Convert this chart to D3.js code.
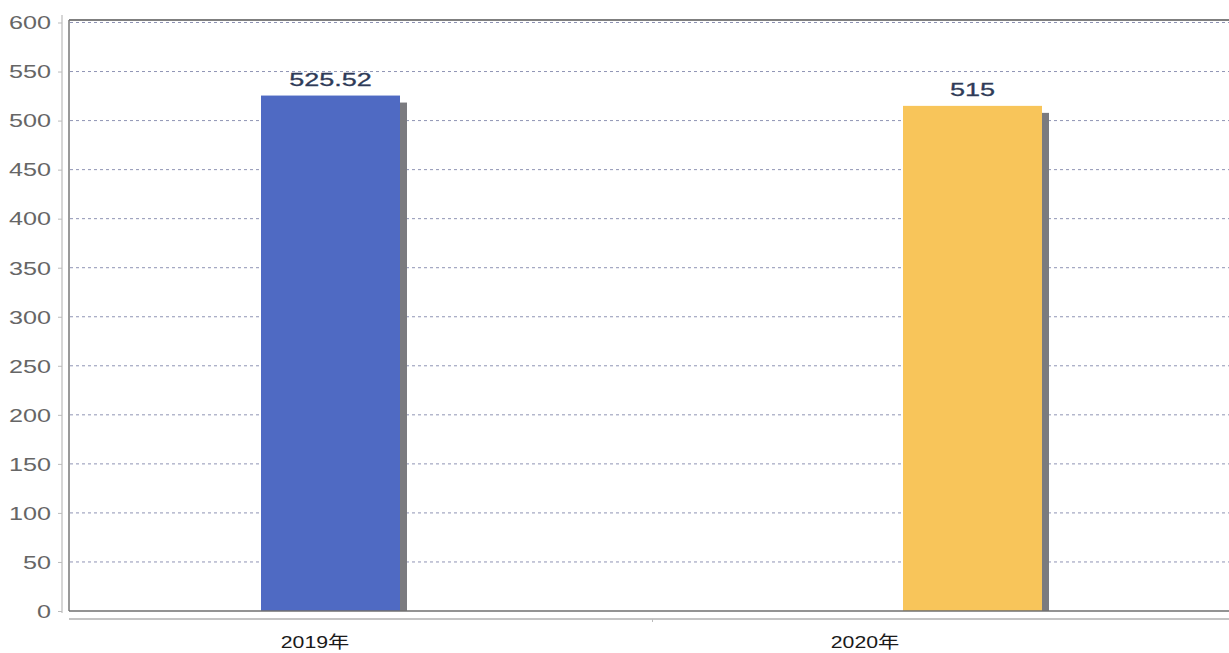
<!DOCTYPE html>
<html><head><meta charset="utf-8">
<script src="https://cdn.jsdelivr.net/npm/d3@7"></script>
<style>html,body{margin:0;padding:0;background:#fff;}svg{display:block;}</style>
</head><body>
<svg id="c" width="1229" height="653"></svg>
<script>
const categories = ["2019年", "2020年"];
const values = [525.52, 515];
const valueLabels = ["525.52", "515"];
const barColors = ["#4f6ac3", "#f8c55a"];
const yTicks = [0, 50, 100, 150, 200, 250, 300, 350, 400, 450, 500, 550, 600];

(function(){
const svg = d3.select("#c");
const W = 1229, H = 653;
const mLeft = 69, mTop = 22.5, mBottom = 611, mRight = 1236;

const y = d3.scaleLinear().domain([0, 600]).range([mBottom, mTop]);
const xBar = d3.scalePoint().domain(categories).range([330.5, 972.5]);
const xLab = d3.scalePoint().domain(categories).range([315, 865]);
const xBand = d3.scaleBand().domain(categories).range([mLeft, mRight]);
const barW = 139, shadowOff = 7;

// grid lines
svg.append("g").selectAll("line").data(yTicks.filter(d => d > 0)).join("line")
  .attr("x1", mLeft + 1).attr("x2", W)
  .attr("y1", d => y(d)).attr("y2", d => y(d))
  .attr("stroke", "#8f94b4").attr("stroke-width", 1).attr("stroke-dasharray", "3,3");

// frame
svg.append("line").attr("x1", mLeft).attr("x2", W).attr("y1", 20).attr("y2", 20)
  .attr("stroke", "#7f7f7f").attr("stroke-width", 1.8);
svg.append("line").attr("x1", mLeft).attr("x2", mLeft).attr("y1", 20).attr("y2", mBottom)
  .attr("stroke", "#777").attr("stroke-width", 1.5);

// y axis (offset light line)
const yAxis = d3.axisLeft(y).tickValues(yTicks).tickSize(4).tickPadding(6);
const gy = svg.append("g").attr("transform", "translate(62,0)").call(yAxis);
gy.select(".domain").attr("stroke", "#c8c8c8").attr("stroke-width", 1.5)
  .attr("d", `M0,15V${mBottom + 2}`);
gy.selectAll(".tick line").attr("stroke", "#bbb");
gy.selectAll(".tick text").attr("fill", "#666").attr("font-size", 18)
  .attr("font-family", "Liberation Sans, Arial, sans-serif")
  .attr("transform", "scale(1.4,1)")
  .attr("x", -11 / 1.4)
  .attr("dy", "0.35em");

// shadows
svg.append("g").selectAll("rect").data(categories).join("rect")
  .attr("x", (d) => xBar(d) - barW / 2 + shadowOff)
  .attr("y", (d, i) => y(values[i]) + shadowOff)
  .attr("width", barW)
  .attr("height", (d, i) => mBottom - y(values[i]) - shadowOff)
  .attr("fill", "#7b7b7f");

// bars
svg.append("g").selectAll("rect").data(categories).join("rect")
  .attr("x", d => xBar(d) - barW / 2)
  .attr("y", (d, i) => y(values[i]))
  .attr("width", barW)
  .attr("height", (d, i) => mBottom - y(values[i]))
  .attr("fill", (d, i) => barColors[i]);

// bottom frame line
svg.append("line").attr("x1", mLeft).attr("x2", W).attr("y1", mBottom).attr("y2", mBottom)
  .attr("stroke", "#6f6f6f").attr("stroke-width", 1.5);

// x axis (offset light line)
const xAxis = d3.axisBottom(xBand).tickSize(0).tickFormat("");
const gx = svg.append("g").attr("transform", `translate(0,619)`).call(xAxis);
gx.select(".domain").attr("stroke", "#c4c4c4").attr("stroke-width", 2)
  .attr("d", `M${mLeft},0H${W}`);
gx.append("line").attr("x1", xBand(categories[1])).attr("x2", xBand(categories[1]))
  .attr("y1", 0).attr("y2", 3).attr("stroke", "#bbb");

// category labels
svg.append("g").selectAll("text").data(categories).join("text")
  .attr("transform", d => `translate(${xLab(d)},648) scale(1.25,1)`)
  .attr("text-anchor", "middle")
  .attr("font-size", 17)
  .attr("font-family", "Liberation Sans, Noto Sans CJK SC, sans-serif")
  .attr("fill", "#1a1a1a")
  .text(d => d);

// value labels
svg.append("g").selectAll("text").data(categories).join("text")
  .attr("transform", (d, i) => `translate(${xBar(d)},${y(values[i]) - 10}) scale(1.5,1)`)
  .attr("text-anchor", "middle")
  .attr("font-size", 18)
  .attr("font-family", "Liberation Sans, Arial, sans-serif")
  .attr("fill", "#2f3b58")
  .attr("stroke", "#2f3b58").attr("stroke-width", 0.3)
  .text((d, i) => valueLabels[i]);
})();
</script>
</body></html>
